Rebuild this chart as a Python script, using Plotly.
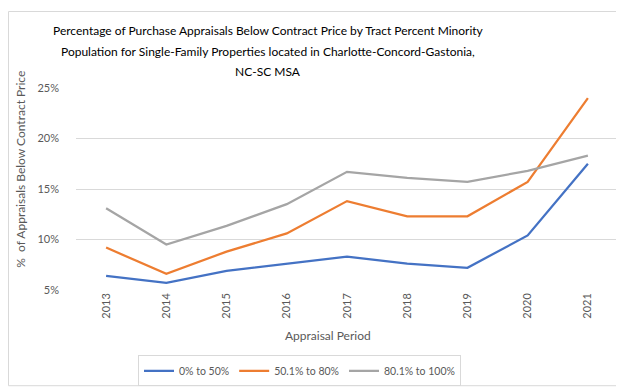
import plotly.graph_objects as go

years = ["2013", "2014", "2015", "2016", "2017", "2018", "2019", "2020", "2021"]
low_minority = [0.064, 0.057, 0.069, 0.076, 0.083, 0.076, 0.072, 0.104, 0.175]
mid_minority = [0.092, 0.066, 0.088, 0.106, 0.138, 0.123, 0.123, 0.157, 0.240]
high_minority = [0.131, 0.095, 0.1135, 0.135, 0.167, 0.161, 0.157, 0.168, 0.183]
series_names = ["0% to 50%", "50.1% to 80%", "80.1% to 100%"]
colors = ["#4472C4", "#ED7D31", "#A5A5A5"]
title_lines = ["Percentage of Purchase Appraisals Below Contract Price by Tract Percent Minority",
               "Population for Single-Family Properties located in Charlotte-Concord-Gastonia,",
               "NC-SC MSA"]

FONT = "Lato"
fig = go.Figure()
for name, vals, col in zip(series_names, [low_minority, mid_minority, high_minority], colors):
    fig.add_trace(go.Scatter(x=years, y=vals, mode="lines", name=name,
                             line=dict(color=col, width=2.25)))

W, H = 624, 390
L, R, T, B = 68, 14, 80, 100
pw, ph = W - L - R, H - T - B

def px_x(x):
    return (x - L) / pw

def px_y(y):
    return (H - B - y) / ph

fig.update_layout(
    width=W, height=H,
    margin=dict(l=L, r=R, t=T, b=B),
    paper_bgcolor="white", plot_bgcolor="white",
    font=dict(family=FONT, color="#595959", size=11),
    showlegend=True,
    legend=dict(orientation="h", x=px_x(130), y=px_y(358), xanchor="left", yanchor="top",
                bordercolor="#D9D9D9", borderwidth=1, font=dict(size=10.5, color="#595959"),
                itemwidth=30, tracegroupgap=0),
    xaxis=dict(type="category", tickangle=-90, showgrid=False, showline=False, ticks="",
               tickfont=dict(size=11, color="#595959"), range=[-0.5, 8.5]),
    yaxis=dict(range=[0.05, 0.25], dtick=0.05, tickformat=".0%", showgrid=True,
               gridcolor="#D9D9D9", gridwidth=1, zeroline=False, showline=False, ticks="",
               tickfont=dict(size=11, color="#595959"), ticklabelstandoff=16),
)

for line, yc in zip(title_lines, [20, 42, 63]):
    fig.add_annotation(text=line, xref="paper", yref="paper", x=px_x(260), y=px_y(yc),
                       showarrow=False, xanchor="center", yanchor="middle",
                       font=dict(family=FONT, size=12, color="#000000"))

fig.add_annotation(text="Appraisal Period", xref="paper", yref="paper", x=px_x(320), y=px_y(337),
                   showarrow=False, font=dict(size=12, color="#595959"), xanchor="center", yanchor="middle")
fig.add_annotation(text="%  of Appraisals Below Contract Price", xref="paper", yref="paper",
                   x=px_x(13), y=px_y(165), textangle=-90, showarrow=False,
                   font=dict(size=12, color="#595959"), xanchor="center", yanchor="middle")

fig.add_shape(type="rect", xref="paper", yref="paper",
              x0=px_x(0.5), x1=px_x(623.5), y0=px_y(389.5), y1=px_y(0.5),
              line=dict(color="#D9D9D9", width=1), fillcolor="rgba(0,0,0,0)", layer="below")

fig.write_html("out.html")
